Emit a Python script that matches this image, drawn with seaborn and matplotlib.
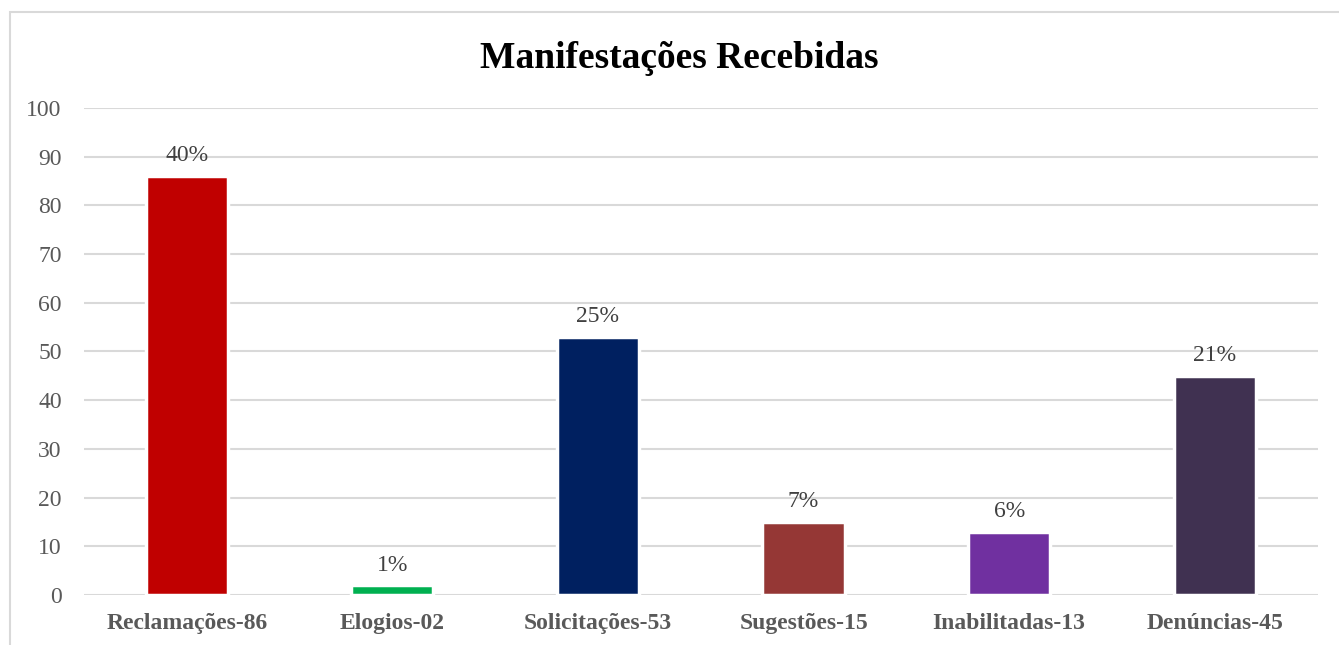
import matplotlib
matplotlib.use('Agg')
import matplotlib.pyplot as plt
import seaborn as sns
from matplotlib.patches import Rectangle

# chart data
categories = ['Reclamações-86', 'Elogios-02', 'Solicitações-53',
              'Sugestões-15', 'Inabilitadas-13', 'Denúncias-45']
values = [86, 2, 53, 15, 13, 45]
colors = ['#C00000', '#00B050', '#002060', '#953735', '#7030A0', '#403151']
yticks = list(range(0, 101, 10))

total = sum(values)
pct_labels = [f'{round(v / total * 100)}%' for v in values]

sns.set_style('white')
plt.rcParams['font.family'] = ['Liberation Serif', 'DejaVu Serif']

fig = plt.figure(figsize=(13.39, 6.45), dpi=100)
ax = fig.add_axes([0.0627, 0.0775, 0.9213, 0.7551])

sns.barplot(x=categories, y=values, hue=categories, palette=colors,
            width=0.40, legend=False, ax=ax, saturation=1,
            edgecolor='white', linewidth=2.5, zorder=3)

for cont, lab in zip(ax.containers, pct_labels):
    ax.bar_label(cont, labels=[lab], padding=7, fontsize=17, color='#404040')

ax.set_ylim(0, 100)
ax.set_xlim(-0.5, len(categories) - 0.5)
ax.set_yticks(yticks)
ax.yaxis.grid(True, color='#d9d9d9', linewidth=1.5, zorder=0)
ax.set_axisbelow(True)
for s in ax.spines.values():
    s.set_visible(False)
ax.tick_params(axis='both', length=0)
ax.tick_params(axis='y', labelsize=17, labelcolor='#595959', pad=16)
ax.tick_params(axis='x', labelsize=17, labelcolor='#595959', pad=13)
for t in ax.get_xticklabels():
    t.set_fontweight('bold')
ax.set_xlabel('')
ax.set_ylabel('')

fig.text(0.507, 0.91, 'Manifestações Recebidas', ha='center', va='center',
         fontsize=27, fontweight='bold', color='black')

# light border round the chart area
fig.patches.append(Rectangle((10 / 1339, -0.05), 1.2, 1 - 12 / 645 + 0.05,
                             transform=fig.transFigure, fill=False,
                             edgecolor='#d9d9d9', linewidth=1.5))

fig.savefig('out.png', dpi=100, facecolor='white')
